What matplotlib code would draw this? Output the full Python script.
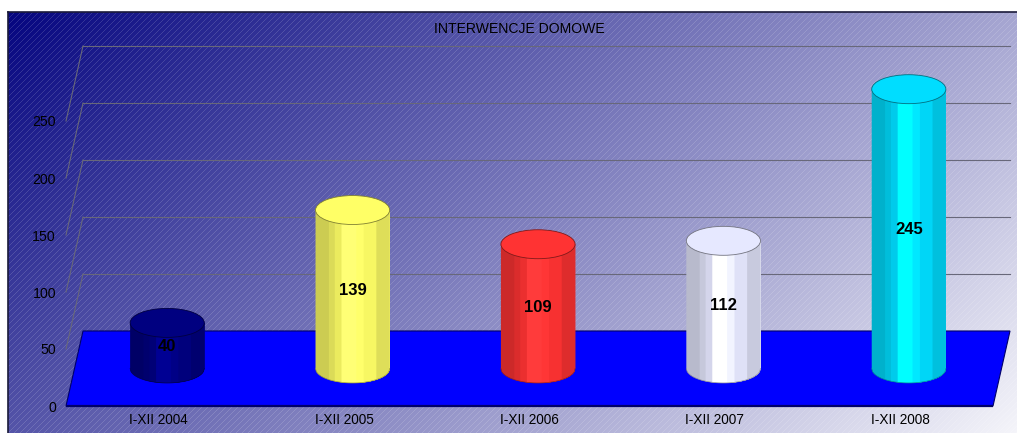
import numpy as np
import matplotlib
matplotlib.use('Agg')
import matplotlib.pyplot as plt
from matplotlib.patches import Ellipse, Polygon

plt.rcParams['font.family'] = ['Liberation Sans', 'DejaVu Sans']

# ====================== DATA ======================
title = 'INTERWENCJE DOMOWE'
categories = ['I-XII 2004', 'I-XII 2005', 'I-XII 2006', 'I-XII 2007', 'I-XII 2008']
values = [40, 139, 109, 112, 245]
y_ticks = [0, 50, 100, 150, 200, 250]
top_colors = ['#000080', '#ffff66', '#ff3333', '#e6e8ff', '#00ddff']

# ====================== 3D LOOK ======================
depth_x = 0.0917   # shift of the back wall, in categories
depth_y = 65.8     # shift of the back wall, in value units
bar_a = 0.2        # cylinder half width
bar_b = 12.7       # cylinder ellipse half height
stripe_edges = [0, 0.18, 0.26, 0.35, 0.55, 0.65, 0.82, 1]
stripe_shade = [0.80, 0.86, 0.92, 1.15, 1.05, 0.97, 0.87]

W, H = 1017, 433
left_px, top_px = 8, 12
fig = plt.figure(figsize=(W / 100, H / 100), dpi=100)
ax = fig.add_axes([left_px / W, 0, (W - left_px) / W, (H - top_px) / H])

# one category is 185.4 px, one value unit 1.14 px, front plane zero at y=406
ax.set_xlim((left_px - 158.7) / 185.4, (W - 158.7) / 185.4)
ax.set_ylim((406 - H) / 1.14, (406 - top_px) / 1.14)

# ====================== BACKGROUND ======================
h_px, w_px = H - top_px, W - left_px
yy, xx = np.mgrid[0:h_px, 0:w_px]
t = 0.67 * xx / w_px + 0.33 * yy / h_px
t = t[..., None]
navy = np.array([0, 0, 125]) / 255
bg = navy + t * (np.array([0.96, 0.96, 0.98]) - navy)
hatch = ((xx + yy) % 6 == 0)[..., None]
bg = np.where(hatch, bg + 0.16 * (1 - bg), bg + 0.02 * (1 - bg))
ax.imshow(bg, extent=[*ax.get_xlim(), *ax.get_ylim()], aspect='auto',
          interpolation='nearest', origin='upper', zorder=0)
ax.set_xlim(ax.get_xlim())
ax.set_ylim(ax.get_ylim())

# ====================== WALL GRID ======================
grid_color = '#68687a'
for v in y_ticks[1:]:
    ax.plot([-0.5, -0.5 + depth_x], [v, v + depth_y], color=grid_color, lw=0.8, zorder=1)
    ax.plot([-0.5 + depth_x, 4.5 + depth_x], [v + depth_y, v + depth_y],
            color=grid_color, lw=0.8, zorder=1)

# ====================== FLOOR ======================
floor = Polygon([(-0.5, 0), (-0.5 + depth_x, depth_y), (4.5 + depth_x, depth_y), (4.5, 0)],
                closed=True, facecolor='#0000ff', edgecolor='#00006a', lw=0.8, zorder=2)
ax.add_patch(floor)
ax.plot([-0.5, 4.5], [0, 0], color='#00006a', lw=1.6, zorder=2.1, solid_capstyle='butt')


# ====================== CYLINDERS ======================
def shade(color, f):
    return tuple(np.clip(np.array(matplotlib.colors.to_rgb(color)) * f, 0, 1))


for i, (val, color) in enumerate(zip(values, top_colors)):
    cx = i + depth_x / 2
    base = depth_y / 2
    top = base + val
    for j, f in enumerate(stripe_shade):
        # each stripe runs on to the right edge, the next one paints over it
        u = np.linspace(stripe_edges[j], 1, 80) * 2 - 1
        low = base - bar_b * np.sqrt(1 - u ** 2)
        ax.fill_between(cx + bar_a * u, low, top, facecolor=shade(color, f),
                        edgecolor='none', lw=0, zorder=3 + j * 0.01)
    u = np.linspace(-1, 1, 100)
    ax.plot(cx + bar_a * u, base - bar_b * np.sqrt(1 - u ** 2), color=shade(color, 0.6),
            lw=0.5, zorder=3.1)
    ax.add_patch(Ellipse((cx, top), 2 * bar_a, 2 * bar_b, facecolor=color,
                         edgecolor=shade(color, 0.5), lw=0.6, zorder=3.2))
    ax.text(cx, base + val / 2 - 0.8, str(val), ha='center', va='center', fontsize=12,
            fontweight='bold', color='black', zorder=4)

# ====================== AXES TEXT ======================
ax.set_xticks(range(len(categories)), categories)
ax.set_yticks(y_ticks)
ax.tick_params(axis='x', length=0, pad=-14.5, labelsize=9.8, colors='black')
ax.tick_params(axis='y', length=0, pad=-34.5, labelsize=10.2, colors='black')
for lab in ax.get_xticklabels():
    lab.set_verticalalignment('top')
for lab in ax.get_yticklabels():
    lab.set_zorder(5)

ax.text(1.943, 330.3, title, ha='center', va='center',
        fontsize=10.1, color='black', zorder=5)

for side in ('right', 'bottom'):
    ax.spines[side].set_visible(False)
for side in ('left', 'top'):
    ax.spines[side].set_linewidth(1.2)
    ax.spines[side].set_color('#1a1a3a')

fig.savefig('out.png', dpi=100)
